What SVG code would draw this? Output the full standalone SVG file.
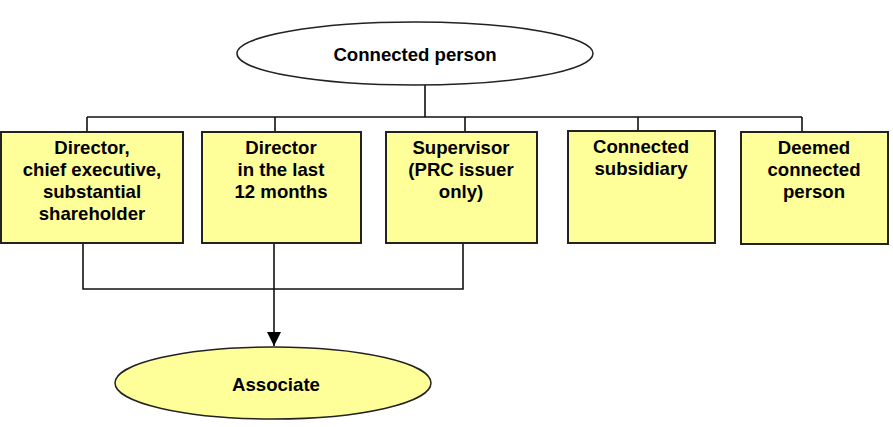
<svg xmlns="http://www.w3.org/2000/svg" width="893" height="427" viewBox="0 0 893 427">
<style>
.box{fill:#FFFF99;stroke:#222;stroke-width:2}
.ell{stroke:#222;stroke-width:1.5}
.t{font-family:"Liberation Sans",Arial,sans-serif;font-weight:bold;font-size:18.6px;fill:#000;text-anchor:middle}
.ln{fill:none;stroke:#111;stroke-width:1.6}
</style>
<defs>
<marker id="arr" markerWidth="14" markerHeight="14" refX="14" refY="7" orient="auto" markerUnits="userSpaceOnUse">
<path d="M0,0 L14,7 L0,14 z" fill="#000"/>
</marker>
</defs>
<g id="connectors">
<path class="ln" d="M425,85 V117 M87,117 H802 M87,117 V132 M275,117 V132 M465,117 V132 M638,117 V131 M802,117 V132"/>
<path class="ln" d="M83,243 V289 H463 V243 M274,243 V289"/>
<path class="ln" d="M274,289 V346" marker-end="url(#arr)"/>
</g>
<g id="connected-person">
<ellipse class="ell" cx="415" cy="53.5" rx="178" ry="31.5" fill="#fff"/>
<text class="t" x="415" y="61">Connected person</text>
</g>
<g id="director">
<rect class="box" x="1" y="132" width="182" height="111"/>
<text class="t" x="92" y="154">Director,</text>
<text class="t" x="92" y="176">chief executive,</text>
<text class="t" x="92" y="198">substantial</text>
<text class="t" x="92" y="220">shareholder</text>
</g>
<g id="director-12">
<rect class="box" x="202" y="132" width="159" height="111"/>
<text class="t" x="281" y="154">Director</text>
<text class="t" x="281" y="176">in the last</text>
<text class="t" x="281" y="198">12 months</text>
</g>
<g id="supervisor">
<rect class="box" x="386" y="132" width="151" height="111"/>
<text class="t" x="461" y="154">Supervisor</text>
<text class="t" x="461" y="176">(PRC issuer</text>
<text class="t" x="461" y="198">only)</text>
</g>
<g id="connected-subsidiary">
<rect class="box" x="568" y="131" width="147" height="112"/>
<text class="t" x="641" y="153">Connected</text>
<text class="t" x="641" y="175">subsidiary</text>
</g>
<g id="deemed">
<rect class="box" x="741" y="132" width="147" height="112"/>
<text class="t" x="814" y="154">Deemed</text>
<text class="t" x="814" y="176">connected</text>
<text class="t" x="814" y="198">person</text>
</g>
<g id="associate">
<ellipse class="ell" cx="273" cy="383" rx="158" ry="36" fill="#FFFF99"/>
<text class="t" x="276" y="391">Associate</text>
</g>
</svg>
